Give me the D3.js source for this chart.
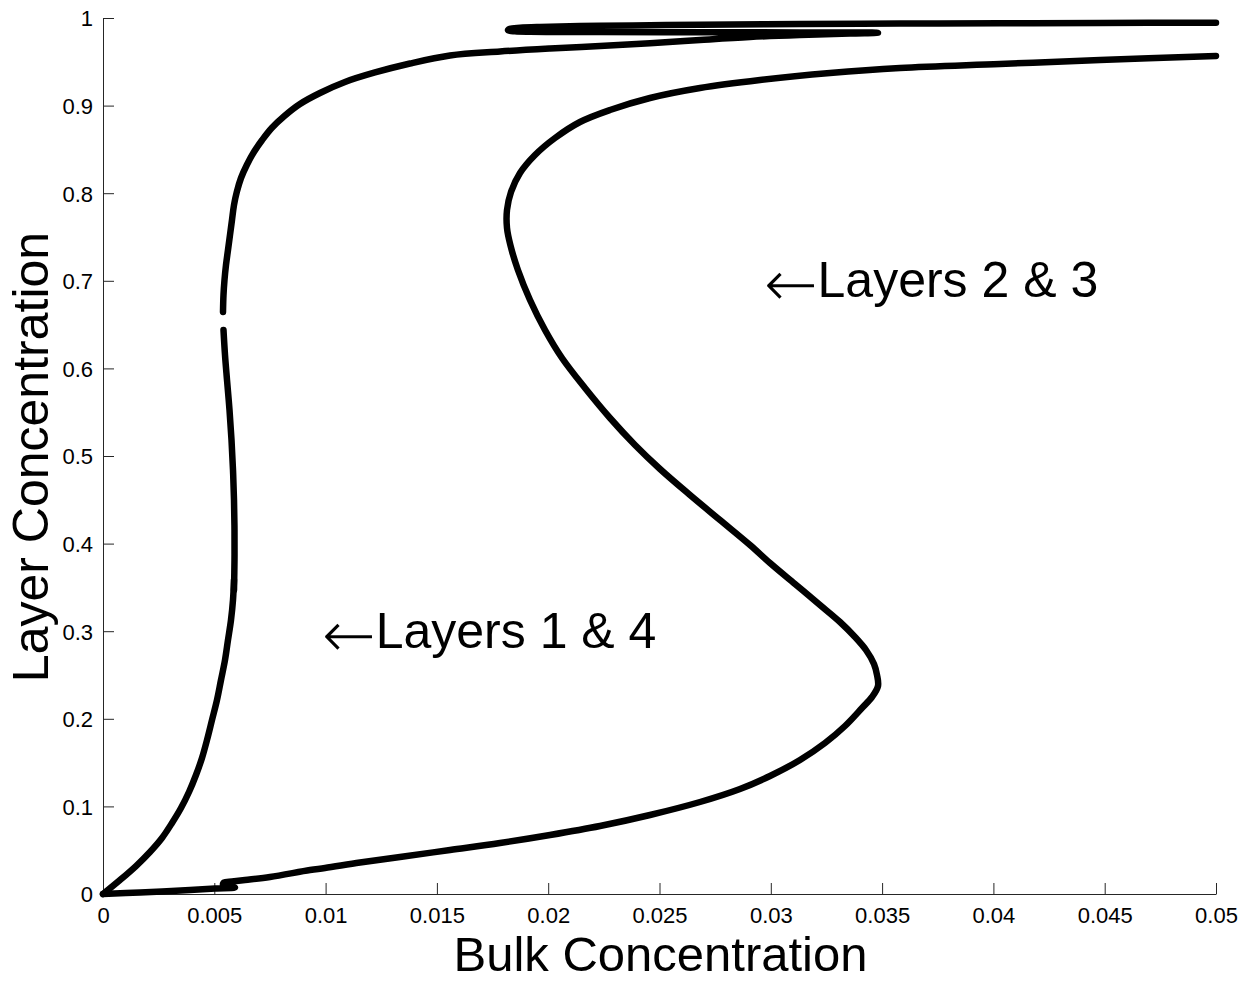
<!DOCTYPE html>
<html>
<head>
<meta charset="utf-8">
<script src="https://cdn.jsdelivr.net/npm/d3@7"></script>
<style>
  html, body { margin: 0; padding: 0; background: #fff; }
  svg { display: block; }
  text { font-family: "Liberation Sans", Arial, Helvetica, sans-serif; fill: #000; }
</style>
</head>
<body>
<svg id="chart" width="1252" height="982"></svg>
<script>
// Axis ticks
const bulkTicks = [0, 0.005, 0.01, 0.015, 0.02, 0.025, 0.03, 0.035, 0.04, 0.045, 0.05];
const bulkTickLabels = ["0", "0.005", "0.01", "0.015", "0.02", "0.025", "0.03", "0.035", "0.04", "0.045", "0.05"];
const layerTicks = [0, 0.1, 0.2, 0.3, 0.4, 0.5, 0.6, 0.7, 0.8, 0.9, 1];
const layerTickLabels = ["0", "0.1", "0.2", "0.3", "0.4", "0.5", "0.6", "0.7", "0.8", "0.9", "1"];

// Layers 1 & 4: [bulk, layer], three pieces separated by small gaps
const layers14Lower = [
  [0, 0], [0.000764, 0.01598], [0.001482, 0.03196], [0.002111, 0.04795],
  [0.002650, 0.06393], [0.003100, 0.08105], [0.003504, 0.09817], [0.003863, 0.11644],
  [0.004178, 0.13584], [0.004447, 0.15525], [0.004672, 0.17580], [0.004897, 0.19863],
  [0.005121, 0.22146], [0.005301, 0.24429], [0.005481, 0.26712], [0.005615, 0.28995],
  [0.005750, 0.31279], [0.005840, 0.33562], [0.005885, 0.35845]
];
const layers14Middle = [
  [0.005885, 0.34703], [0.005907, 0.38128], [0.005907, 0.41553], [0.005885, 0.44977],
  [0.005840, 0.48402], [0.005773, 0.51826], [0.005683, 0.55251], [0.005571, 0.58676],
  [0.005481, 0.61530], [0.005413, 0.64384]
];
const layers14Upper = [
  [0.005391, 0.66438], [0.005413, 0.68379], [0.005458, 0.70091], [0.005526, 0.71804],
  [0.005615, 0.73516], [0.005705, 0.75228], [0.005795, 0.76941], [0.005885, 0.78653],
  [0.006010, 0.80137], [0.006200, 0.81735], [0.006460, 0.83219], [0.006780, 0.84703],
  [0.007150, 0.86073], [0.007580, 0.87443], [0.008150, 0.88813], [0.008850, 0.90183],
  [0.009748, 0.91438], [0.010872, 0.92694], [0.012219, 0.93779], [0.013791, 0.94806],
  [0.015589, 0.95719], [0.017835, 0.96176], [0.020081, 0.96518], [0.022327, 0.96804],
  [0.024573, 0.97112], [0.026819, 0.97489], [0.029066, 0.97831], [0.031312, 0.98059],
  [0.033558, 0.98231], [0.034816, 0.98311],
  [0.034007, 0.98345], [0.031312, 0.98356], [0.026819, 0.98368], [0.022327, 0.98402],
  [0.020530, 0.98402], [0.019183, 0.98425], [0.018509, 0.98482], [0.018194, 0.98596],
  [0.018284, 0.98767], [0.018733, 0.98881], [0.019632, 0.98973], [0.020979, 0.99053],
  [0.022327, 0.99110], [0.024573, 0.99178], [0.026819, 0.99235], [0.031312, 0.99315],
  [0.035804, 0.99361], [0.040296, 0.99395], [0.044789, 0.99429], [0.050000, 0.99463]
];

// Layers 2 & 3: [bulk, layer]
const layers23 = [
  [0, 0], [0.001662, 0.00171], [0.003908, 0.00457], [0.005031, 0.00628],
  [0.005930, 0.00742], [0.005660, 0.00970], [0.005391, 0.01084], [0.005436, 0.01313],
  [0.005795, 0.01427], [0.006379, 0.01598], [0.007502, 0.01941], [0.009299, 0.02740],
  [0.009973, 0.02968], [0.011545, 0.03596], [0.013342, 0.04224], [0.015589, 0.05023],
  [0.017835, 0.05822], [0.020081, 0.06735], [0.022327, 0.07763], [0.024573, 0.09018],
  [0.026819, 0.10502], [0.028616, 0.11986], [0.029964, 0.13470], [0.031312, 0.15297],
  [0.032435, 0.17237], [0.033333, 0.19178], [0.034097, 0.21233], [0.034547, 0.22489],
  [0.034816, 0.23744], [0.034771, 0.25000], [0.034636, 0.26256], [0.034277, 0.27854],
  [0.033783, 0.29338], [0.033109, 0.31050], [0.032210, 0.32991], [0.031087, 0.35388],
  [0.029964, 0.37785], [0.029066, 0.39840], [0.027718, 0.42694], [0.026370, 0.45548],
  [0.025022, 0.48516], [0.023899, 0.51256], [0.022776, 0.54338], [0.021653, 0.57763],
  [0.020620, 0.61187], [0.019856, 0.64384], [0.019183, 0.67808], [0.018640, 0.71233],
  [0.018300, 0.74087], [0.018149, 0.76027], [0.018149, 0.78082], [0.018329, 0.80137],
  [0.018733, 0.82306], [0.019407, 0.84361], [0.020306, 0.86301], [0.021429, 0.88128],
  [0.022776, 0.89498], [0.024573, 0.90868], [0.026819, 0.92009], [0.029515, 0.92922],
  [0.032659, 0.93721], [0.035804, 0.94292], [0.040296, 0.94749], [0.044789, 0.95205],
  [0.050000, 0.95662]
];

// Annotation labels: [bulk, layer] of the text start
const annotations = [
  { text: "Layers 2 & 3", at: [0.0321, 0.681] },
  { text: "Layers 1 & 4", at: [0.01225, 0.281] }
];

const svg = d3.select("#chart");
const margin = { left: 103, right: 36, top: 18, bottom: 88 };
const width = 1252, height = 982;

const x = d3.scaleLinear().domain([0, 0.05]).range([margin.left, width - margin.right]);
const y = d3.scaleLinear().domain([0, 1]).range([height - margin.bottom, margin.top]);

// Axes with inward ticks
const xAxis = d3.axisBottom(x)
  .tickValues(bulkTicks)
  .tickFormat((d, i) => bulkTickLabels[i])
  .tickSizeInner(-11).tickSizeOuter(0).tickPadding(10);
const yAxis = d3.axisLeft(y)
  .tickValues(layerTicks)
  .tickFormat((d, i) => layerTickLabels[i])
  .tickSizeInner(-11).tickSizeOuter(0).tickPadding(10);

const gx = svg.append("g").attr("transform", `translate(0,${y(0)})`).call(xAxis);
const gy = svg.append("g").attr("transform", `translate(${x(0)},0)`).call(yAxis);
[gx, gy].forEach(g => {
  g.attr("font-size", null).attr("font-family", null);
  g.select(".domain").attr("stroke", "#262626").attr("stroke-width", 1);
  g.selectAll(".tick line").attr("stroke", "#262626").attr("stroke-width", 1);
  g.selectAll(".tick text")
    .style("font-size", "22px")
    .style("font-family", "'Liberation Sans', Arial, sans-serif")
    .attr("fill", "#000");
});
gx.selectAll(".tick text").attr("dy", "0em").attr("y", 28.5);
gy.selectAll(".tick text").attr("dy", "0.36em");

// Curves
const line = d3.line()
  .x(d => x(d[0]))
  .y(d => y(d[1]))
  .curve(d3.curveCatmullRom.alpha(0.5));

const curves = [layers14Lower, layers14Middle, layers14Upper, layers23];
svg.append("g")
  .selectAll("path")
  .data(curves)
  .join("path")
  .attr("d", line)
  .attr("fill", "none")
  .attr("stroke", "#000")
  .attr("stroke-width", 6.5)
  .attr("stroke-linecap", "round")
  .attr("stroke-linejoin", "round");

// Annotations
const ann = svg.append("g");
annotations.forEach(a => {
  const px = x(a.at[0]), py = y(a.at[1]);
  ann.append("text")
    .attr("x", px).attr("y", py)
    .style("font-size", "50px")
    .text(a.text);
  ann.append("text")
    .attr("x", px).attr("y", py + 9)
    .attr("text-anchor", "end")
    .style("font-size", "64px")
    .style("font-family", "'DejaVu Sans', sans-serif")
    .style("font-weight", 200)
    .text("\u2190");
});

// Axis titles
svg.append("text")
  .attr("x", (x(0) + x(0.05)) / 2 + 1)
  .attr("y", 971)
  .attr("text-anchor", "middle")
  .style("font-size", "49px")
  .text("Bulk Concentration");

svg.append("text")
  .attr("transform", `translate(48,${y(0.5) + 1}) rotate(-90)`)
  .attr("text-anchor", "middle")
  .style("font-size", "50px")
  .text("Layer Concentration");
</script>
</body>
</html>
